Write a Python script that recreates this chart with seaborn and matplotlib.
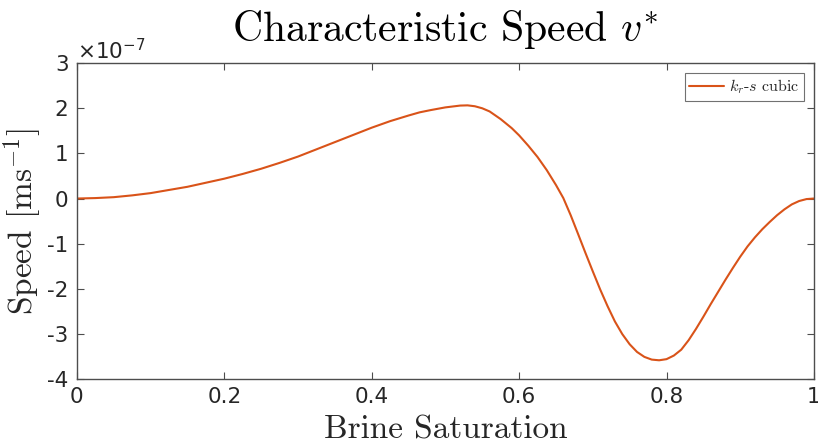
import numpy as np
import pandas as pd
import matplotlib
matplotlib.use("Agg")
import matplotlib.pyplot as plt
import seaborn as sns

# Brine saturation (x) and characteristic speed (units of 1e-7 m/s)
saturation = [0.000, 0.025, 0.050, 0.075, 0.100, 0.125, 0.150, 0.175, 0.200, 0.225,
              0.250, 0.275, 0.300, 0.325, 0.350, 0.375, 0.400, 0.425, 0.450, 0.465,
              0.480, 0.500, 0.520, 0.530, 0.540, 0.550, 0.560, 0.575, 0.590, 0.600,
              0.6125, 0.625, 0.6375, 0.650, 0.660, 0.670, 0.680, 0.690, 0.700, 0.710,
              0.720, 0.730, 0.740, 0.750, 0.760, 0.770, 0.780, 0.790, 0.800, 0.810,
              0.820, 0.830, 0.840, 0.850, 0.860, 0.870, 0.880, 0.890, 0.900, 0.910,
              0.920, 0.930, 0.940, 0.950, 0.960, 0.970, 0.980, 0.990, 1.000]
speed = [0.000, 0.010, 0.030, 0.070, 0.120, 0.190, 0.260, 0.350, 0.440, 0.545,
         0.660, 0.790, 0.930, 1.090, 1.250, 1.410, 1.570, 1.715, 1.840, 1.910,
         1.960, 2.020, 2.060, 2.065, 2.045, 2.000, 1.930, 1.760, 1.560, 1.400,
         1.170, 0.920, 0.630, 0.300, 0.010, -0.370, -0.785, -1.205, -1.615, -2.015,
         -2.385, -2.725, -3.005, -3.230, -3.400, -3.510, -3.570, -3.585, -3.560, -3.480,
         -3.350, -3.140, -2.890, -2.620, -2.340, -2.070, -1.800, -1.540, -1.290, -1.060,
         -0.860, -0.680, -0.520, -0.370, -0.240, -0.130, -0.055, -0.012, 0.000]
series_label = r"$k_r$-$s$ cubic"

x_ticks = [0, 0.2, 0.4, 0.6, 0.8, 1]
x_ticklabels = ["0", "0.2", "0.4", "0.6", "0.8", "1"]
y_ticks = [-4, -3, -2, -1, 0, 1, 2, 3]
y_ticklabels = ["-4", "-3", "-2", "-1", "0", "1", "2", "3"]

sns.set_theme(style="ticks")
plt.rcParams["font.family"] = ["DejaVu Sans"]
plt.rcParams["mathtext.fontset"] = "cm"
plt.rcParams["axes.unicode_minus"] = False
plt.rcParams["axes.formatter.use_mathtext"] = True

df = pd.DataFrame({"Brine Saturation": saturation, "Speed": speed})

fig = plt.figure(figsize=(8.18, 4.48), dpi=100)
ax = fig.add_axes([0.094, 0.154, 0.901, 0.705])

sns.lineplot(data=df, x="Brine Saturation", y="Speed", ax=ax, color="#D95319",
             linewidth=1.5, sort=False, estimator=None, label=series_label)

ax.set_xlim(0, 1)
ax.set_ylim(-4, 3)
ax.set_xticks(x_ticks)
ax.set_xticklabels(x_ticklabels)
ax.set_yticks(y_ticks)
ax.set_yticklabels(y_ticklabels)

edge = "#4d4d4d"
for sp in ax.spines.values():
    sp.set_visible(True)
    sp.set_color(edge)
    sp.set_linewidth(1.0)
ax.tick_params(direction="in", length=5, width=0.8, color=edge,
               top=True, right=True, labelsize=15.5, labelcolor="#262626", pad=6)

ax.set_title("Characteristic Speed $v^{*}$", family="cmr10", fontsize=30,
             color="black", pad=16)
ax.set_xlabel("Brine Saturation", family="cmr10", fontsize=24, color="#262626",
              labelpad=6)
ax.set_ylabel("Speed [ms$^{-1}$]", family="cmr10", fontsize=24, color="#262626",
              labelpad=2)

ax.text(0.0, 1.0, r"$\times10^{-7}$", transform=ax.transAxes, fontsize=15.5,
        math_fontfamily="dejavusans", color="#262626", ha="left", va="bottom")

leg = ax.legend(loc="upper right", prop={"family": "cmr10", "size": 11.5},
                frameon=True, fancybox=False, handlelength=2.2,
                borderpad=0.3, handletextpad=0.3, borderaxespad=0.6)
leg.get_frame().set_edgecolor("#4d4d4d")
leg.get_frame().set_linewidth(0.8)

fig.savefig("out.png", dpi=100, facecolor="white")
